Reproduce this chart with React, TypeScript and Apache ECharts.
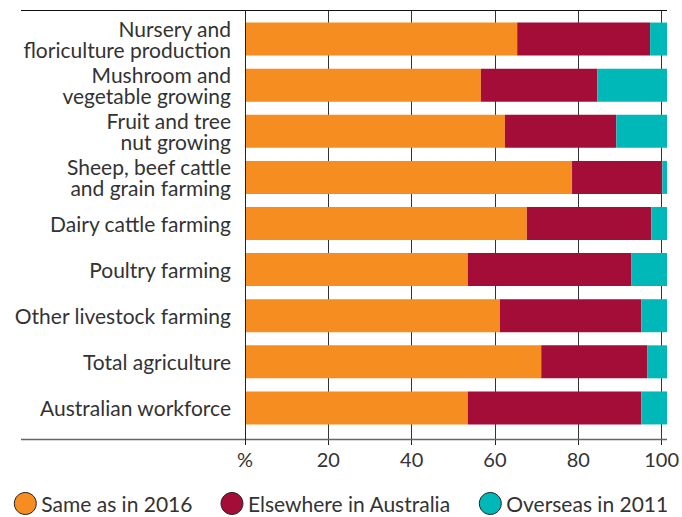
import React, { useEffect, useRef } from "react";
import * as echarts from "echarts";

const categories = [
  "Nursery and\nfloriculture production",
  "Mushroom and\nvegetable growing",
  "Fruit and tree\nnut growing",
  "Sheep, beef cattle\nand grain farming",
  "Dairy cattle farming",
  "Poultry farming",
  "Other livestock farming",
  "Total agriculture",
  "Australian workforce",
];
const sameAs2016 = [64.5, 55.9, 61.6, 77.5, 66.8, 52.8, 60.4, 70.2, 52.8];
const elsewhereAus = [31.5, 27.6, 26.4, 21.4, 29.5, 38.7, 33.5, 25.1, 41.1];
const overseas2011 = [4.0, 16.5, 12.0, 1.1, 3.7, 8.5, 6.1, 4.7, 6.1];
const seriesNames = ["Same as in 2016", "Elsewhere in Australia", "Overseas in 2011"];
const colors = ["#F58D20", "#A30D37", "#00B8B8"];

const FONT = "Lato, 'Noto Sans', sans-serif";

export default function App() {
  const ref = useRef<HTMLDivElement>(null);
  useEffect(() => {
    if (!ref.current) return;
    const chart = echarts.init(ref.current, undefined, { renderer: "svg" });
    const values = [sameAs2016, elsewhereAus, overseas2011];
    chart.setOption({
      animation: false,
      textStyle: { fontFamily: FONT },
      grid: [
        { left: 245, right: 15, top: 10, bottom: 78 },
        { left: 245, right: 15, top: 16, height: 415 },
      ],
      xAxis: [
        {
          gridIndex: 0,
          type: "value",
          min: 0,
          max: 100,
          interval: 20,
          axisLine: { show: false },
          axisTick: { show: true, length: 6, lineStyle: { color: "#222", width: 1 } },
          splitLine: { show: true, lineStyle: { color: "#333", width: 1 } },
          axisLabel: {
            margin: 10,
            fontSize: 20,
            color: "#333",
            fontFamily: FONT,
            formatter: (v: number) => (v === 0 ? "%" : String(v)),
          },
        },
        {
          gridIndex: 1,
          type: "value",
          min: 0,
          max: 100,
          show: false,
        },
      ],
      yAxis: [
        {
          gridIndex: 0,
          type: "value",
          show: false,
        },
        {
          gridIndex: 1,
          type: "category",
          inverse: true,
          data: categories,
          axisLine: { show: false },
          axisTick: { show: false },
          axisLabel: {
            margin: 14,
            fontSize: 21,
            lineHeight: 21,
            color: "#333",
            fontFamily: FONT,
            align: "right",
          },
        },
      ],
      legend: {
        left: "center",
        top: 492,
        padding: 0,
        icon: "circle",
        itemWidth: 22,
        itemHeight: 22,
        itemGap: 28,
        textStyle: { fontSize: 21, color: "#333", fontFamily: FONT },
        itemStyle: { borderColor: "#222", borderWidth: 1 },
        data: seriesNames,
      },
      graphic: [
        { type: "line", shape: { x1: 21, y1: 10.5, x2: 667, y2: 10.5 }, style: { stroke: "#111", lineWidth: 1 }, z: 10 },
        { type: "line", shape: { x1: 21, y1: 439.5, x2: 667, y2: 439.5 }, style: { stroke: "#666", lineWidth: 1.5 }, z: 10 },
        { type: "line", shape: { x1: 245.5, y1: 10, x2: 245.5, y2: 445 }, style: { stroke: "#222", lineWidth: 1 }, z: 10 },
      ],
      series: values.map((d, i) => ({
        name: seriesNames[i],
        type: "bar",
        stack: "total",
        xAxisIndex: 1,
        yAxisIndex: 1,
        barWidth: 33,
        data: d,
        itemStyle: { color: colors[i] },
      })),
    });
    return () => chart.dispose();
  }, []);
  return <div ref={ref} style={{ width: 682, height: 517, position: "absolute", left: 0, top: 0 }} />;
}
